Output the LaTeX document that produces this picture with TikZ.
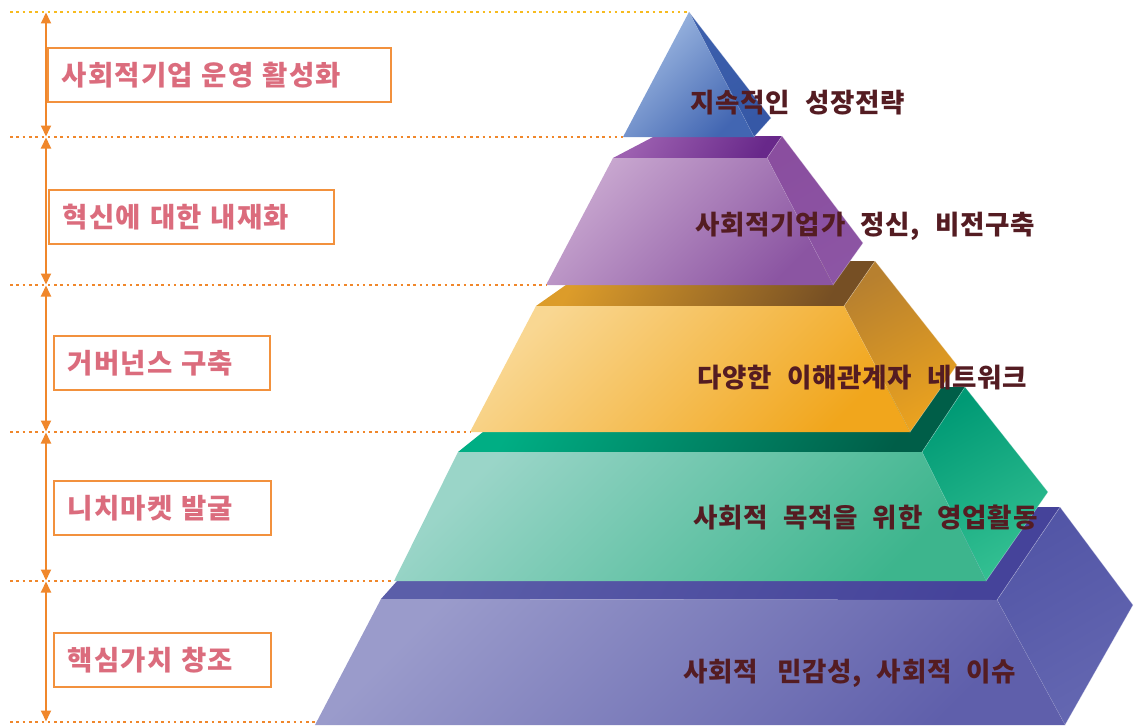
\documentclass[tikz,border=0pt]{standalone}
\usepackage{fontspec}
\newfontfamily\krfont[WordSpace=2.2, LetterSpace=3]{Noto Sans CJK KR}
\newfontfamily\krboxfont[WordSpace=2.2, LetterSpace=4]{Noto Sans CJK KR}
\usetikzlibrary{arrows.meta,positioning}

\definecolor{lineorange}{HTML}{F0872B}
\definecolor{dotyellow}{HTML}{F7BB1F}
\definecolor{boxorange}{HTML}{F2913D}
\definecolor{boxtext}{HTML}{DB6C7D}
\definecolor{pyrtext}{HTML}{541C22}
% layer colours: top face, side face, front face (light/dark)
\definecolor{eTopA}{HTML}{5B5EA9}\definecolor{eTopB}{HTML}{45439A}
\definecolor{eSideA}{HTML}{5255A6}\definecolor{eSideB}{HTML}{6467B1}
\definecolor{eFrontA}{HTML}{9A9BCB}\definecolor{eFrontB}{HTML}{5F5FAB}
\definecolor{dTopA}{HTML}{00AE84}\definecolor{dTopB}{HTML}{005E48}
\definecolor{dSideA}{HTML}{009A75}\definecolor{dSideB}{HTML}{34C092}
\definecolor{dFrontA}{HTML}{9AD5C8}\definecolor{dFrontB}{HTML}{3DB58D}
\definecolor{cTopA}{HTML}{DC9C2A}\definecolor{cTopB}{HTML}{764F24}
\definecolor{cSideA}{HTML}{B7802F}\definecolor{cSideB}{HTML}{EAA21F}
\definecolor{cFrontA}{HTML}{F9D792}\definecolor{cFrontB}{HTML}{F1A61C}
\definecolor{bTopA}{HTML}{9C60B0}\definecolor{bTopB}{HTML}{68288A}
\definecolor{bSideA}{HTML}{8A4E9F}\definecolor{bSideB}{HTML}{8C55A4}
\definecolor{bFrontA}{HTML}{C9A8D0}\definecolor{bFrontB}{HTML}{8B55A2}
\definecolor{aSideA}{HTML}{3C5FAC}\definecolor{aSideB}{HTML}{3658A6}
\definecolor{aFrontA}{HTML}{A3BDE4}\definecolor{aFrontB}{HTML}{4266B2}

\tikzset{
  leveldots/.style={draw=lineorange, line width=2.6pt, dash pattern=on 2.6pt off 3.7pt},
  levelarrow/.style={<->, >={Triangle[length=11pt,width=10pt]}, draw=lineorange, line width=1.8pt},
  labelbox/.style={draw=boxorange, line width=1.6pt, anchor=north west, minimum height=54pt,
    inner xsep=14pt, align=left, text=boxtext, font=\krboxfont\bfseries\fontsize{27.5}{30}\selectfont},
  pyrlabel/.style={anchor=west, inner sep=0pt, text=pyrtext, font=\krfont\bfseries\fontsize{26.5}{30}\selectfont},
  frontface/.style={top color=#1FrontA, bottom color=#1FrontB, shading angle=45},
  topface/.style={top color=#1TopA, bottom color=#1TopB, shading angle=60},
  sideface/.style={top color=#1SideA, bottom color=#1SideB, shading angle=30, draw=white, draw opacity=0.35, line width=0.6pt}
}

\begin{document}
\begin{tikzpicture}[x=1pt,y=-1pt]
\useasboundingbox (0,0) rectangle (1134,725);

% layer 5 (bottom)
\shade[topface=e] (463,507) -- (1060,507) -- (997,600) -- (381,599) -- cycle;
\shade[sideface=e] (1060,507) -- (1133,605) -- (1065,725) -- (997,600) -- cycle;
\shade[frontface=e] (381,599) -- (997,600) -- (1065,725) -- (315,725) -- cycle;
\coordinate (e-bl) at (315,722);

% layer 4
\shade[topface=d] (539,387) -- (965,387) -- (922,452) -- (458,452) -- cycle;
\shade[sideface=d] (965,387) -- (1048,492) -- (986,581) -- (922,452) -- cycle;
\shade[frontface=d] (458,452) -- (922,452) -- (986,581) -- (394,581) -- cycle;
\coordinate (d-bl) at (394,581);

% layer 3
\shade[topface=c] (600,261) -- (875,261) -- (844,306) -- (536,306) -- cycle;
\shade[sideface=c] (875,261) -- (957,365) -- (910,432) -- (844,306) -- cycle;
\shade[frontface=c] (536,306) -- (844,306) -- (910,432) -- (470,432) -- cycle;
\coordinate (c-bl) at (470,432);

% layer 2
\shade[topface=b] (655,136) -- (782,136) -- (767,158) -- (613,158) -- cycle;
\shade[sideface=b] (782,136) -- (863,243) -- (833,285) -- (767,158) -- cycle;
\shade[frontface=b] (613,158) -- (767,158) -- (833,285) -- (546,285) -- cycle;
\coordinate (b-bl) at (546,285);

% layer 1 (top)
\shade[sideface=a] (689,12) -- (771,118) -- (754,137) -- cycle;
\shade[frontface=a] (689,12) -- (754,137) -- (623,137) -- cycle;
\coordinate (a-top) at (689,12);
\coordinate (a-bl) at (623,137);

\node[pyrlabel] (t1) at (690,103) {지속적인 성장전략};
\node[pyrlabel] (t2) at (695,226) {사회적기업가 정신, 비전구축};
\node[pyrlabel] (t3) at (697,378) {다양한 이해관계자 네트워크};
\node[pyrlabel] (t4) at (693,518) {사회적 목적을 위한 영업활동};
\node[pyrlabel] (t5) at (683,673) {사회적 \hspace{4pt}민감성, 사회적 이슈};

\coordinate (l0) at (10,12);
\coordinate (l1) at (10,137);
\coordinate (l2) at (10,285);
\coordinate (l3) at (10,432);
\coordinate (l4) at (10,581);
\coordinate (l5) at (10,722);
\draw[leveldots, draw=dotyellow] (l0) -- (a-top);
\draw[leveldots] (l1) -- (a-bl);
\draw[leveldots] (l2) -- (b-bl);
\draw[leveldots] (l3) -- (c-bl);
\draw[leveldots] (l4) -- (d-bl);
\draw[leveldots] (l5) -- (e-bl);

\foreach \i/\j in {0/1,1/2,2/3,3/4,4/5}
  \draw[levelarrow] ([xshift=36pt,yshift=-0.5pt]l\i) -- ([xshift=36pt,yshift=0.5pt]l\j);

\node[labelbox, text width=315pt] (b1) at (47,47) {사회적기업 운영 활성화};
\node[labelbox, text width=257pt] (b2) at (48,189) {혁신에 대한 내재화};
\node[labelbox, text width=188pt] (b3) at (53,335) {거버넌스 구축};
\node[labelbox, text width=189pt] (b4) at (53,480) {니치마켓 발굴};
\node[labelbox, text width=189pt] (b5) at (53,632) {핵심가치 창조};
\end{tikzpicture}
\end{document}
